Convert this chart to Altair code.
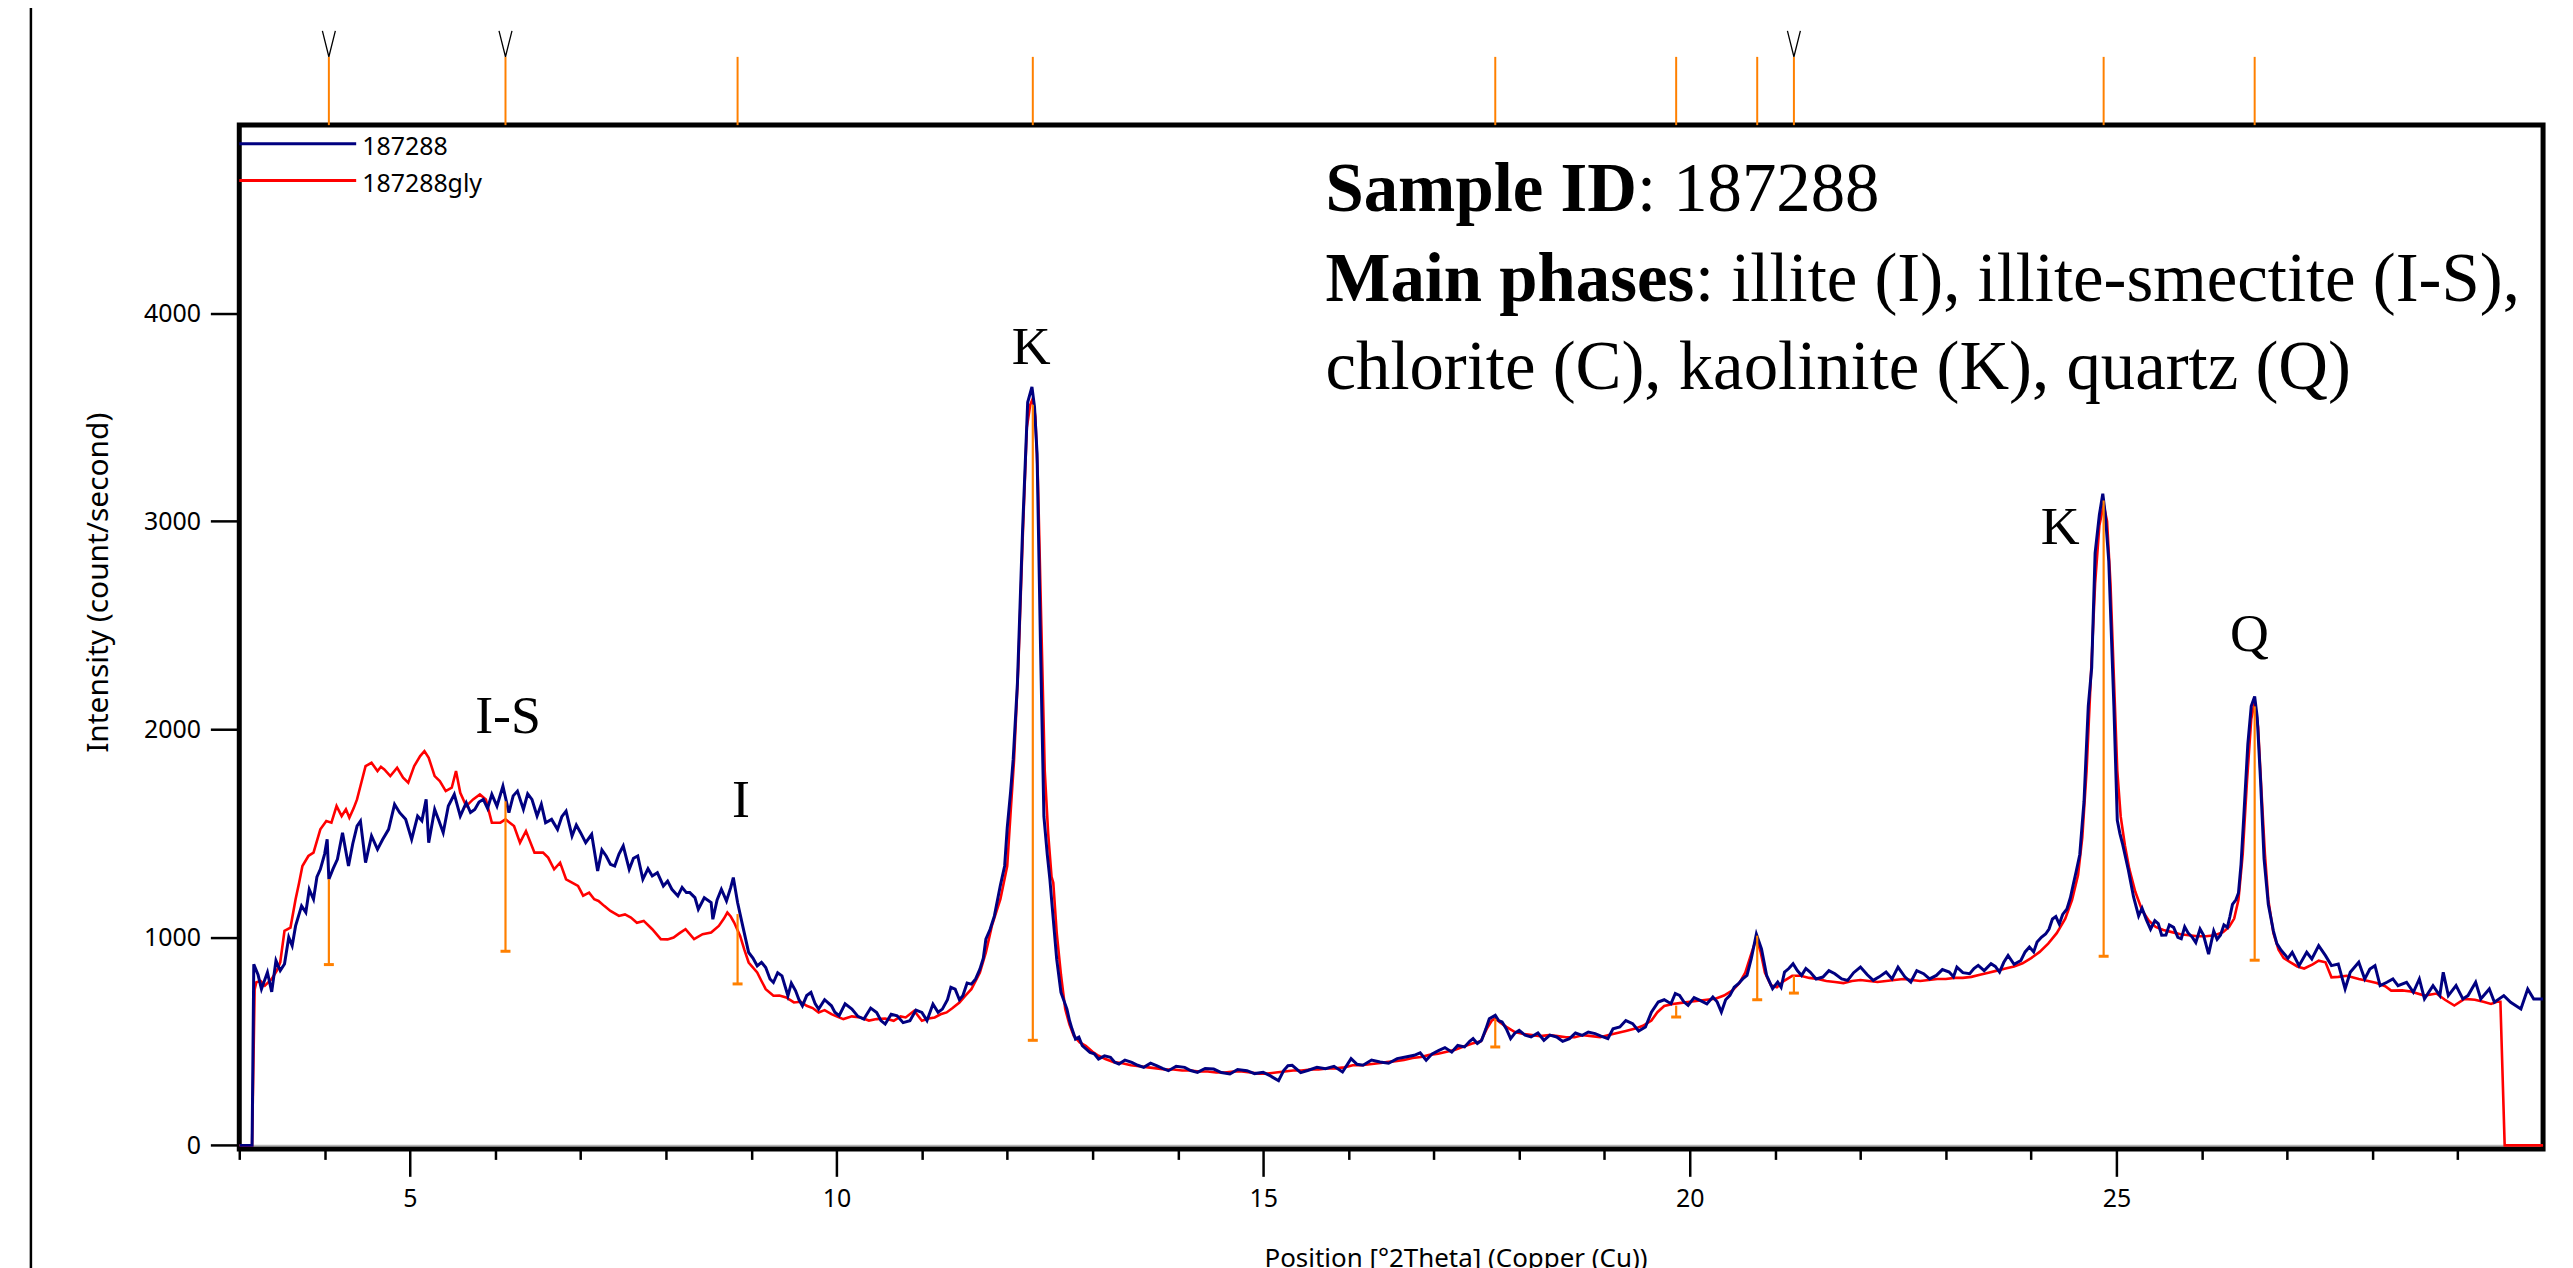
import altair as alt
import pandas as pd

# ------------------------------------------------------------------ data
series_names = ["187288", "187288gly"]
series_colors = ["#000080", "#ff0000"]

# 187288 (air-dried)
blue_points = [
    (3.00, 0), (3.15, 0), (3.17, 870), (3.22, 820), (3.26, 752), (3.33, 832), (3.38, 738), (3.43, 888),
    (3.48, 840), (3.53, 872), (3.58, 1000), (3.62, 960), (3.66, 1055), (3.73, 1151), (3.78, 1120),
    (3.82, 1230), (3.87, 1183), (3.91, 1290), (3.95, 1327), (4.00, 1400), (4.03, 1471), (4.05, 1279),
    (4.10, 1330), (4.15, 1375), (4.21, 1503), (4.28, 1343), (4.33, 1450), (4.38, 1535), (4.42, 1559),
    (4.48, 1359), (4.55, 1487), (4.62, 1423), (4.68, 1470), (4.75, 1519), (4.82, 1639), (4.88, 1599),
    (4.95, 1567), (5.02, 1471), (5.09, 1583), (5.14, 1560), (5.19, 1663), (5.22, 1455), (5.29, 1615),
    (5.34, 1560), (5.39, 1503), (5.45, 1631), (5.52, 1687), (5.59, 1583), (5.66, 1647), (5.71, 1600),
    (5.76, 1615), (5.81, 1650), (5.86, 1663), (5.91, 1620), (5.96, 1687), (6.02, 1631), (6.09, 1727),
    (6.16, 1599), (6.21, 1680), (6.26, 1703), (6.33, 1615), (6.38, 1690), (6.43, 1663), (6.49, 1583),
    (6.54, 1640), (6.59, 1551), (6.66, 1567), (6.73, 1519), (6.78, 1580), (6.83, 1607), (6.90, 1487),
    (6.95, 1540), (7.00, 1503), (7.06, 1455), (7.13, 1495), (7.20, 1319), (7.25, 1420), (7.30, 1391),
    (7.35, 1351), (7.40, 1343), (7.45, 1400), (7.50, 1439), (7.57, 1327), (7.62, 1380), (7.67, 1391),
    (7.73, 1279), (7.79, 1330), (7.84, 1295), (7.90, 1311), (7.97, 1247), (8.02, 1270), (8.07, 1231),
    (8.14, 1199), (8.19, 1240), (8.24, 1215), (8.28, 1215), (8.34, 1191), (8.38, 1135), (8.45, 1190),
    (8.53, 1167), (8.55, 1087), (8.60, 1180), (8.65, 1231), (8.71, 1175), (8.76, 1240), (8.79, 1287),
    (8.84, 1167), (8.90, 1055), (8.97, 927), (9.02, 900), (9.07, 863), (9.12, 880), (9.17, 855),
    (9.22, 800), (9.26, 783), (9.31, 830), (9.36, 815), (9.43, 719), (9.47, 780), (9.52, 743),
    (9.56, 700), (9.60, 671), (9.65, 720), (9.70, 735), (9.75, 680), (9.79, 655), (9.86, 700),
    (9.94, 671), (9.98, 640), (10.03, 623), (10.10, 680), (10.18, 655), (10.25, 620), (10.32, 607),
    (10.40, 660), (10.47, 639), (10.52, 600), (10.57, 583), (10.64, 630), (10.71, 623), (10.78, 590),
    (10.86, 599), (10.93, 650), (11.00, 639), (11.06, 600), (11.13, 679), (11.19, 640), (11.24, 655),
    (11.30, 700), (11.34, 760), (11.39, 751), (11.44, 700), (11.48, 719), (11.53, 780), (11.58, 775),
    (11.63, 800), (11.68, 847), (11.72, 900), (11.75, 991), (11.80, 1039), (11.85, 1103), (11.92, 1250),
    (11.97, 1343), (12.00, 1525), (12.04, 1700), (12.07, 1855), (12.12, 2223), (12.18, 2956),
    (12.24, 3572), (12.29, 3646), (12.32, 3550), (12.35, 3324), (12.39, 2406), (12.43, 1581),
    (12.47, 1396), (12.50, 1280), (12.52, 1183), (12.58, 895), (12.63, 735), (12.70, 655), (12.73, 600),
    (12.76, 559), (12.80, 511), (12.84, 520), (12.88, 479), (12.92, 465), (12.97, 447), (13.02, 440),
    (13.07, 415), (13.14, 430), (13.21, 423), (13.26, 400), (13.31, 391), (13.38, 410), (13.46, 399),
    (13.53, 385), (13.60, 375), (13.68, 395), (13.75, 383), (13.82, 370), (13.89, 359), (13.98, 380),
    (14.08, 375), (14.15, 360), (14.23, 351), (14.32, 370), (14.42, 367), (14.51, 350), (14.61, 343),
    (14.70, 365), (14.81, 359), (14.90, 345), (15.00, 351), (15.08, 335), (15.18, 311), (15.24, 360),
    (15.29, 383), (15.34, 385), (15.44, 350), (15.53, 361), (15.63, 375), (15.73, 369), (15.83, 380),
    (15.93, 353), (16.03, 417), (16.10, 390), (16.17, 385), (16.27, 410), (16.37, 401), (16.47, 395),
    (16.57, 417), (16.67, 425), (16.77, 433), (16.84, 445), (16.91, 409), (16.98, 440), (17.06, 457),
    (17.13, 470), (17.21, 449), (17.28, 480), (17.36, 473), (17.42, 500), (17.46, 513), (17.51, 490),
    (17.56, 505), (17.61, 560), (17.65, 609), (17.72, 625), (17.76, 600), (17.80, 593), (17.85, 560),
    (17.90, 513), (17.95, 540), (18.00, 553), (18.07, 530), (18.14, 521), (18.22, 540), (18.29, 505),
    (18.36, 530), (18.44, 521), (18.51, 500), (18.59, 513), (18.66, 540), (18.74, 529), (18.81, 545),
    (18.89, 537), (18.96, 525), (19.04, 513), (19.10, 560), (19.18, 569), (19.25, 600), (19.33, 585),
    (19.40, 550), (19.48, 569), (19.55, 640), (19.63, 689), (19.70, 700), (19.78, 681), (19.83, 730),
    (19.88, 721), (19.93, 690), (19.98, 673), (20.05, 710), (20.12, 697), (20.20, 680), (20.27, 713),
    (20.32, 690), (20.37, 641), (20.42, 700), (20.47, 721), (20.52, 760), (20.57, 777), (20.62, 800),
    (20.67, 817), (20.72, 897), (20.78, 1016), (20.84, 945), (20.90, 817), (20.97, 753), (21.03, 785),
    (21.07, 760), (21.11, 833), (21.16, 850), (21.21, 873), (21.26, 840), (21.31, 817), (21.36, 850),
    (21.41, 833), (21.48, 800), (21.56, 809), (21.63, 840), (21.70, 825), (21.78, 800), (21.85, 793),
    (21.92, 830), (22.00, 857), (22.08, 820), (22.15, 793), (22.22, 810), (22.30, 833), (22.37, 800),
    (22.44, 857), (22.52, 810), (22.59, 785), (22.66, 840), (22.74, 825), (22.81, 800), (22.89, 817),
    (22.96, 845), (23.04, 833), (23.09, 810), (23.13, 857), (23.20, 830), (23.28, 825), (23.33, 850),
    (23.38, 865), (23.45, 840), (23.53, 873), (23.58, 860), (23.63, 833), (23.68, 880), (23.73, 913),
    (23.80, 870), (23.88, 889), (23.93, 930), (23.98, 953), (24.03, 930), (24.07, 977), (24.12, 1000),
    (24.17, 1016), (24.21, 1040), (24.25, 1088), (24.29, 1100), (24.33, 1064), (24.37, 1110),
    (24.42, 1136), (24.46, 1190), (24.49, 1247), (24.53, 1320), (24.57, 1397), (24.62, 1653),
    (24.67, 2112), (24.71, 2296), (24.75, 2847), (24.80, 3031), (24.84, 3132), (24.87, 3031),
    (24.91, 2810), (24.97, 2112), (25.01, 1562), (25.04, 1500), (25.07, 1452), (25.14, 1323),
    (25.20, 1195), (25.26, 1103), (25.30, 1140), (25.35, 1085), (25.40, 1039), (25.45, 1080),
    (25.49, 1066), (25.53, 1010), (25.58, 1011), (25.62, 1060), (25.67, 1048), (25.72, 1000),
    (25.76, 993), (25.80, 1050), (25.84, 1021), (25.89, 1000), (25.93, 975), (25.98, 1040), (26.02, 1011),
    (26.08, 919), (26.14, 1030), (26.18, 990), (26.22, 1011), (26.26, 1060), (26.30, 1048), (26.33, 1100),
    (26.36, 1158), (26.40, 1180), (26.43, 1213), (26.46, 1350), (26.49, 1562), (26.54, 1929),
    (26.58, 2112), (26.62, 2158), (26.65, 2057), (26.69, 1745), (26.73, 1378), (26.78, 1158),
    (26.84, 1030), (26.88, 970), (26.93, 938), (27.01, 899), (27.06, 928), (27.14, 864), (27.23, 928),
    (27.29, 896), (27.37, 960), (27.45, 912), (27.52, 864), (27.60, 872), (27.68, 752), (27.74, 832),
    (27.84, 880), (27.91, 800), (27.97, 848), (28.03, 864), (28.09, 768), (28.17, 784), (28.24, 800),
    (28.30, 768), (28.40, 784), (28.48, 736), (28.55, 800), (28.61, 704), (28.71, 768), (28.79, 720),
    (28.83, 832), (28.89, 720), (28.98, 768), (29.06, 704), (29.12, 720), (29.21, 784), (29.27, 704),
    (29.37, 752), (29.43, 688), (29.54, 720), (29.62, 688), (29.74, 656), (29.82, 752), (29.89, 704),
    (30.00, 704),
]

# 187288gly (glycolated)
red_points = [
    (3.00, 0), (3.15, 0), (3.18, 750), (3.20, 784), (3.25, 790), (3.30, 768), (3.38, 800), (3.44, 840),
    (3.48, 880), (3.53, 1031), (3.60, 1047), (3.66, 1183), (3.70, 1260), (3.74, 1343), (3.81, 1391),
    (3.87, 1407), (3.95, 1519), (4.02, 1559), (4.08, 1551), (4.14, 1631), (4.20, 1583), (4.25, 1615),
    (4.29, 1575), (4.34, 1620), (4.38, 1663), (4.43, 1743), (4.48, 1823), (4.55, 1839), (4.62, 1799),
    (4.66, 1820), (4.70, 1807), (4.77, 1775), (4.85, 1815), (4.92, 1767), (4.98, 1743), (5.05, 1823),
    (5.12, 1871), (5.17, 1895), (5.22, 1863), (5.29, 1775), (5.35, 1751), (5.42, 1703), (5.49, 1719),
    (5.54, 1799), (5.59, 1695), (5.66, 1631), (5.74, 1663), (5.82, 1687), (5.89, 1663), (5.96, 1551),
    (6.06, 1551), (6.12, 1567), (6.22, 1535), (6.29, 1455), (6.36, 1511), (6.46, 1407), (6.56, 1407),
    (6.62, 1383), (6.69, 1327), (6.76, 1359), (6.83, 1279), (6.90, 1263), (6.97, 1247), (7.03, 1200),
    (7.10, 1215), (7.16, 1183), (7.21, 1175), (7.28, 1150), (7.35, 1127), (7.45, 1103), (7.52, 1110),
    (7.59, 1095), (7.66, 1070), (7.74, 1079), (7.84, 1039), (7.94, 991), (8.02, 990), (8.09, 999),
    (8.16, 1020), (8.23, 1039), (8.33, 991), (8.43, 1015), (8.53, 1023), (8.62, 1055), (8.68, 1090),
    (8.72, 1119), (8.76, 1100), (8.80, 1071), (8.87, 1007), (8.92, 940), (8.97, 879), (9.07, 831),
    (9.12, 790), (9.17, 751), (9.26, 719), (9.33, 720), (9.41, 711), (9.50, 687), (9.58, 690),
    (9.65, 671), (9.72, 660), (9.79, 639), (9.86, 650), (9.94, 631), (10.00, 620), (10.08, 607),
    (10.18, 620), (10.28, 615), (10.38, 600), (10.47, 607), (10.57, 610), (10.67, 599), (10.75, 620),
    (10.81, 615), (10.91, 647), (11.00, 599), (11.08, 610), (11.15, 615), (11.22, 630), (11.29, 639),
    (11.36, 660), (11.44, 687), (11.51, 720), (11.58, 751), (11.63, 790), (11.68, 831), (11.75, 927),
    (11.82, 1055), (11.92, 1183), (12.00, 1343), (12.04, 1600), (12.08, 1850), (12.13, 2300),
    (12.18, 2900), (12.23, 3450), (12.27, 3560), (12.30, 3590), (12.33, 3500), (12.36, 3200),
    (12.40, 2500), (12.44, 1800), (12.48, 1500), (12.52, 1290), (12.54, 1263), (12.58, 1023),
    (12.63, 820), (12.68, 655), (12.73, 580), (12.78, 527), (12.85, 495), (12.92, 479), (13.00, 450),
    (13.07, 431), (13.15, 415), (13.25, 400), (13.35, 395), (13.45, 385), (13.55, 380), (13.65, 375),
    (13.75, 370), (13.85, 365), (13.95, 365), (14.05, 360), (14.15, 360), (14.25, 355), (14.35, 355),
    (14.45, 350), (14.55, 350), (14.65, 355), (14.75, 355), (14.85, 350), (14.95, 345), (15.05, 345),
    (15.15, 350), (15.25, 355), (15.35, 360), (15.45, 360), (15.55, 365), (15.65, 365), (15.75, 370),
    (15.85, 370), (15.95, 375), (16.05, 385), (16.15, 385), (16.25, 390), (16.35, 395), (16.45, 400),
    (16.55, 405), (16.65, 410), (16.75, 420), (16.85, 425), (16.95, 435), (17.05, 440), (17.15, 450),
    (17.25, 460), (17.35, 475), (17.45, 490), (17.55, 500), (17.62, 560), (17.68, 600), (17.72, 610),
    (17.78, 590), (17.85, 570), (17.95, 545), (18.05, 535), (18.15, 530), (18.25, 525), (18.35, 530),
    (18.45, 525), (18.55, 520), (18.65, 520), (18.75, 530), (18.85, 525), (18.95, 520), (19.05, 530),
    (19.15, 540), (19.25, 550), (19.35, 560), (19.45, 575), (19.55, 600), (19.62, 640), (19.70, 670),
    (19.80, 680), (19.90, 685), (20.00, 690), (20.10, 695), (20.20, 700), (20.30, 705), (20.40, 720),
    (20.50, 745), (20.58, 780), (20.65, 830), (20.72, 920), (20.78, 995), (20.83, 930), (20.88, 830),
    (20.95, 770), (21.02, 760), (21.10, 790), (21.20, 815), (21.30, 815), (21.40, 805), (21.50, 800),
    (21.60, 790), (21.70, 785), (21.80, 780), (21.90, 790), (22.00, 795), (22.10, 790), (22.20, 785),
    (22.30, 790), (22.40, 795), (22.50, 800), (22.60, 795), (22.70, 790), (22.80, 795), (22.90, 800),
    (23.00, 800), (23.10, 805), (23.20, 805), (23.30, 810), (23.40, 820), (23.50, 830), (23.60, 840),
    (23.70, 850), (23.80, 860), (23.90, 875), (24.00, 900), (24.10, 930), (24.20, 970), (24.30, 1020),
    (24.40, 1090), (24.48, 1180), (24.55, 1300), (24.60, 1480), (24.65, 1800), (24.70, 2250),
    (24.75, 2700), (24.80, 2980), (24.85, 3080), (24.89, 3000), (24.93, 2700), (24.97, 2250),
    (25.01, 1800), (25.05, 1580), (25.10, 1440), (25.15, 1330), (25.22, 1220), (25.30, 1130),
    (25.38, 1080), (25.46, 1050), (25.55, 1035), (25.65, 1025), (25.75, 1015), (25.85, 1010),
    (25.95, 1005), (26.05, 1005), (26.15, 1010), (26.25, 1025), (26.32, 1050), (26.38, 1090),
    (26.43, 1180), (26.48, 1400), (26.53, 1750), (26.58, 2050), (26.62, 2130), (26.66, 2010),
    (26.70, 1700), (26.74, 1400), (26.78, 1180), (26.84, 1020), (26.90, 940), (26.96, 900), (27.04, 880),
    (27.12, 860), (27.20, 850), (27.30, 870), (27.37, 888), (27.45, 880), (27.52, 808), (27.60, 810),
    (27.70, 815), (27.84, 800), (27.95, 790), (28.05, 780), (28.15, 765), (28.22, 744), (28.35, 745),
    (28.45, 740), (28.61, 720), (28.75, 730), (28.85, 700), (28.96, 672), (29.08, 704), (29.20, 700),
    (29.30, 690), (29.39, 680), (29.46, 690), (29.50, 690), (29.55, 0), (30.00, 0),
]

# reference-pattern sticks (orange)
stick_x = [4.05, 6.12, 8.84, 12.30, 17.72, 19.84, 20.79, 21.22, 24.85, 26.62]
stick_top = [1280, 1654, 1112, 3560, 608, 672, 1008, 816, 3100, 2110]
stick_bottom = [869, 933, 776, 505, 473, 617, 700, 732, 909, 890]
stick_flagged = [True, True, False, False, False, False, False, True, False, False]
pattern_low, pattern_high, pattern_mark = 4904, 5232, 5295

# peak labels
peak_labels = ["I-S", "I", "K", "K", "Q"]
peak_label_x = [6.15, 8.88, 12.28, 24.34, 26.56]
peak_label_y = [1984, 1576, 3757, 2889, 2377]

# info block
info_bold = ["Sample ID", "Main phases"]
info_regular = [": 187288", ": illite (I), illite-smectite (I-S),", "chlorite (C), kaolinite (K), quartz (Q)"]
info_x = 15.73
info_join_x = [19.38, 20.06]
info_y = [4490, 4058, 3637]

# legend placement
legend_x = [3.0, 4.37, 4.44]
legend_y = [4815, 4638]
legend_text_y = [4758, 4581]

# frame line at the far left of the figure
outer_line_x = 0.558
outer_line_y = [-700, 5600]

x_ticks = list(range(3, 30))
y_ticks = [0, 1000, 2000, 3000, 4000]
x_domain = [3, 30]
y_domain = [-17, 4904]

SANS = "Noto Sans"
SERIF = "Liberation Serif"
ORANGE = "#ff8000"

# ------------------------------------------------------------------ tables
lines_df = pd.DataFrame(
    {
        "x": [p[0] for p in blue_points] + [p[0] for p in red_points],
        "y": [p[1] for p in blue_points] + [p[1] for p in red_points],
        "series": [series_names[0]] * len(blue_points) + [series_names[1]] * len(red_points),
    }
)
sticks_df = pd.DataFrame(
    {
        "x": stick_x,
        "y": stick_top,
        "y2": stick_bottom,
        "py": [pattern_low] * len(stick_x),
        "py2": [pattern_high] * len(stick_x),
        "vy": [pattern_mark] * len(stick_x),
        "flag": stick_flagged,
    }
)
peaks_df = pd.DataFrame({"x": peak_label_x, "y": peak_label_y, "label": peak_labels})
info_bold_df = pd.DataFrame({"x": [info_x] * 2, "y": info_y[:2], "label": info_bold})
info_reg_df = pd.DataFrame({"x": info_join_x + [info_x], "y": info_y, "label": info_regular})
legend_df = pd.DataFrame(
    {
        "x": [legend_x[0]] * 2,
        "x2": [legend_x[1]] * 2,
        "y": legend_y,
        "ty": legend_text_y,
        "tx": [legend_x[2]] * 2,
        "series": series_names,
    }
)
outer_df = pd.DataFrame({"x": [outer_line_x], "y": [outer_line_y[0]], "y2": [outer_line_y[1]]})
zero_df = pd.DataFrame({"x": [x_domain[0]], "x2": [x_domain[1]], "y": [0]})

# ------------------------------------------------------------------ scales / axes
xscale = alt.Scale(domain=x_domain, nice=False, zero=False)
yscale = alt.Scale(domain=y_domain, nice=False, zero=False)
cscale = alt.Scale(domain=series_names, range=series_colors)

xaxis = alt.Axis(
    values=x_ticks,
    tickSize={"condition": {"test": "datum.value % 5 === 0", "value": 27.5}, "value": 10.5},
    tickWidth=2.5,
    tickColor="black",
    labelExpr="datum.value % 5 === 0 ? datum.label : ''",
    labelFont=SANS,
    labelFontSize=25,
    labelColor="black",
    labelPadding=10,
    labelFlush=False,
    labelOverlap=False,
    domain=False,
    grid=False,
    title="Position [°2Theta] (Copper (Cu))",
    titleFont=SANS,
    titleFontSize=26,
    titleFontWeight="normal",
    titleColor="black",
    titleX=1220,
    titleY=118,
    titleAlign="center",
    titleBaseline="alphabetic",
)
yaxis = alt.Axis(
    values=y_ticks,
    format="d",
    tickSize=29,
    tickWidth=2.5,
    tickColor="black",
    labelFont=SANS,
    labelFontSize=25,
    labelColor="black",
    labelPadding=10,
    domain=False,
    grid=False,
    title="Intensity (count/second)",
    titleFont=SANS,
    titleFontSize=30,
    titleFontWeight="normal",
    titleColor="black",
    titleAngle=270,
    titleX=-132,
    titleY=458.5,
    titleAlign="center",
    titleBaseline="alphabetic",
)


def X(field="x"):
    return alt.X(f"{field}:Q", scale=xscale, axis=xaxis)


def Y(field="y"):
    return alt.Y(f"{field}:Q", scale=yscale, axis=yaxis)


# ------------------------------------------------------------------ layers
outer = alt.Chart(outer_df).mark_rule(color="black", strokeWidth=2.5, clip=False).encode(
    x=X(), y=Y(), y2=alt.Y2("y2")
)
zero_line = alt.Chart(zero_df).mark_rule(color="#b4b4b4", strokeWidth=1.5).encode(
    x=X(), x2=alt.X2("x2"), y=Y()
)
color = alt.Color("series:N", scale=cscale, legend=None)
red_line = (
    alt.Chart(lines_df)
    .transform_filter(alt.datum.series == series_names[1])
    .mark_line(strokeWidth=2.6, clip=True)
    .encode(x=X(), y=Y(), color=color, order="x:Q")
)
blue_line = (
    alt.Chart(lines_df)
    .transform_filter(alt.datum.series == series_names[0])
    .mark_line(strokeWidth=3, clip=True)
    .encode(x=X(), y=Y(), color=color, order="x:Q")
)
sticks = alt.Chart(sticks_df).mark_rule(color=ORANGE, strokeWidth=2.2).encode(
    x=X(), y=Y(), y2=alt.Y2("y2")
)
caps = alt.Chart(sticks_df).mark_point(
    shape="M-1,-0.3L1,-0.3L1,0.3L-1,0.3Z", filled=True, color=ORANGE, size=100, opacity=1
).encode(x=X(), y=Y("y2"))
pattern = alt.Chart(sticks_df).mark_rule(color=ORANGE, strokeWidth=2, clip=False).encode(
    x=X(), y=Y("py"), y2=alt.Y2("py2")
)
vmarks = (
    alt.Chart(sticks_df)
    .transform_filter(alt.datum.flag)
    .mark_point(shape="M-0.5,-1L0,1L0.5,-1", filled=False, color="black", strokeWidth=1.3,
                size=676, opacity=1, clip=False)
    .encode(x=X(), y=Y("vy"))
)
legend_lines = alt.Chart(legend_df).mark_rule(strokeWidth=3).encode(
    x=X(), x2=alt.X2("x2"), y=Y(), color=color
)
legend_text = alt.Chart(legend_df).mark_text(
    font=SANS, fontSize=25, align="left", baseline="alphabetic", color="black"
).encode(x=X("tx"), y=Y("ty"), text="series:N")
peak_text = alt.Chart(peaks_df).mark_text(
    font=SERIF, fontSize=54, align="center", baseline="alphabetic", color="black"
).encode(x=X(), y=Y(), text="label:N")
info_b = alt.Chart(info_bold_df).mark_text(
    font=SERIF, fontSize=69, fontWeight="bold", align="left", baseline="alphabetic", color="black"
).encode(x=X(), y=Y(), text="label:N")
info_r = alt.Chart(info_reg_df).mark_text(
    font=SERIF, fontSize=69, align="left", baseline="alphabetic", color="black"
).encode(x=X(), y=Y(), text="label:N")

chart = (
    alt.layer(
        outer, zero_line, red_line, blue_line, sticks, caps, pattern, vmarks,
        legend_lines, legend_text, peak_text, info_b, info_r,
    )
    .properties(
        width=2311,
        height=1027,
        autosize=alt.AutoSizeParams(type="none"),
        padding={"left": 232, "top": 115.5, "right": 22, "bottom": 125},
        background="white",
    )
    .configure_view(stroke="black", strokeWidth=5)
)

chart.save("out.html", embed_options={"renderer": "svg", "actions": False})
